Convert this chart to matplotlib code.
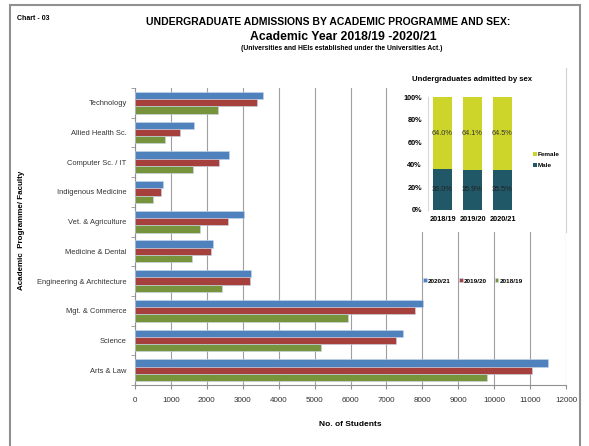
import numpy as np
import matplotlib.pyplot as plt
from matplotlib.patches import Rectangle

plt.rcParams['font.family'] = ['Liberation Sans', 'DejaVu Sans']

# main chart data (top to bottom as drawn)
faculties = ['Technology', 'Allied Health Sc.', 'Computer Sc. / IT', 'Indigenous Medicine',
             'Vet. & Agriculture', 'Medicine & Dental', 'Engineering & Architecture',
             'Mgt. & Commerce', 'Science', 'Arts & Law']
adm_2021 = [3570, 1650, 2630, 770, 3030, 2180, 3220, 8010, 7450, 11490]
adm_1920 = [3400, 1250, 2340, 725, 2600, 2105, 3210, 7795, 7260, 11060]
adm_1819 = [2300, 835, 1605, 510, 1820, 1590, 2430, 5940, 5180, 9810]
series_labels = ['2020/21', '2019/20', '2018/19']
series_colors = ['#4F81BD', '#A5403D', '#77933C']

# inset data
years = ['2018/19', '2019/20', '2020/21']
male_pct = [36.0, 35.9, 35.5]
female_pct = [64.0, 64.1, 64.5]

W, H = 589, 446
fig = plt.figure(figsize=(W / 100, H / 100), dpi=100)

# outer frame
fig.patches.append(Rectangle((10 / W, -0.05), 570 / W, 1 - 5 / H + 0.05, transform=fig.transFigure,
                             fill=False, edgecolor='#909090', linewidth=1.5))

fig.text(17 / W, 1 - 19 / H, 'Chart - 03', fontsize=5, fontweight='bold', va='center')
fig.text(328 / W, 1 - 22 / H, 'UNDERGRADUATE ADMISSIONS BY ACADEMIC PROGRAMME AND SEX:',
         fontsize=7.5, fontweight='bold', ha='center', va='center')
fig.text(343 / W, 1 - 37 / H, 'Academic Year 2018/19 -2020/21',
         fontsize=8.8, fontweight='bold', ha='center', va='center')
fig.text(342 / W, 1 - 49 / H, '(Universities and HEIs established under the Universities Act.)',
         fontsize=4.9, fontweight='bold', ha='center', va='center')

ax = fig.add_axes([135 / W, 1 - 385 / H, 431 / W, 297 / H])
n = len(faculties)
pos = np.arange(n)[::-1]
bh = 0.245
for k, (vals, lab, col) in enumerate(zip([adm_2021, adm_1920, adm_1819], series_labels, series_colors)):
    ax.barh(pos + (1 - k) * bh, vals, height=bh, color=col, label=lab,
            edgecolor='#C8D8EC', linewidth=0.4, zorder=3)

ax.set_xlim(0, 12000)
ax.set_ylim(-0.5, n - 0.5)
ax.set_xticks(np.arange(0, 12001, 1000))
ax.tick_params(axis='x', labelsize=5.8, length=3, color='#909090', pad=6, labelcolor='#333333')
ax.set_yticks(pos)
ax.set_yticklabels(faculties, fontsize=5.4, color='#333333')
ax.set_yticks(np.arange(-0.5, n, 1), minor=True)
ax.tick_params(axis='y', which='major', length=0, pad=6)
ax.tick_params(axis='y', which='minor', length=3, color='#909090')
ax.grid(axis='x', color='#A0A0A0', linewidth=0.8, zorder=0)
for s in ['top', 'right']:
    ax.spines[s].set_visible(False)
for s in ['left', 'bottom']:
    ax.spines[s].set_color('#909090')
ax.set_xlabel('No. of Students', fontsize=6, fontweight='bold', labelpad=12)
fig.text(22 / W, 1 - 230 / H, 'Academic  Programme/ Faculty', fontsize=5.8, fontweight='bold',
         rotation=90, ha='center', va='center')

ax.legend(loc='center', bbox_to_anchor=(473 / W, 1 - 281 / H), bbox_transform=fig.transFigure,
          ncol=3, frameon=False, handlelength=0.6, handleheight=0.6,
          handletextpad=0.2, columnspacing=1.2, prop={'weight': 'bold', 'size': 4.6})

# inset panel
box = fig.add_axes([398 / W, 1 - 232 / H, 168 / W, 164 / H])
box.set_facecolor('white')
box.set_xticks([])
box.set_yticks([])
for s in box.spines.values():
    s.set_visible(False)
box.spines['right'].set_visible(True)
box.spines['right'].set_color('#D0D0D0')

iax = fig.add_axes([427.5 / W, 1 - 210 / H, 90 / W, 112.7 / H])
xi = np.arange(len(years))
iax.bar(xi, male_pct, width=0.65, color='#215868', label='Male')
iax.bar(xi, female_pct, width=0.65, bottom=male_pct, color='#CDD52A', label='Female')
for i in range(len(years)):
    iax.text(xi[i], male_pct[i] / 2, '%.1f%%' % male_pct[i], ha='center', va='center',
             fontsize=5.3, color='#222222')
    iax.text(xi[i], male_pct[i] + female_pct[i] / 2, '%.1f%%' % female_pct[i], ha='center',
             va='center', fontsize=5.3, color='#333333')
iax.set_xlim(-0.5, 2.5)
iax.set_ylim(0, 100)
iax.set_yticks(np.arange(0, 101, 20))
iax.set_yticklabels(['%d%%' % v for v in range(0, 101, 20)])
iax.set_xticks(xi)
iax.set_xticklabels(years)
iax.tick_params(axis='both', length=0, labelsize=5.3, pad=4)
for lab in iax.get_xticklabels() + iax.get_yticklabels():
    lab.set_fontweight('bold')
for s in ['top', 'right', 'bottom']:
    iax.spines[s].set_visible(False)
iax.spines['left'].set_color('#D8D8D8')
iax.set_title('Undergraduates admitted by sex', fontsize=5.6, fontweight='bold', pad=12)
h, l = iax.get_legend_handles_labels()
iax.legend(h[::-1], l[::-1], loc='center left', bbox_to_anchor=(527 / W, 1 - 160 / H),
           bbox_transform=fig.transFigure, frameon=False, handlelength=0.6, handleheight=0.6,
           handletextpad=0.2, labelspacing=0.8, prop={'weight': 'bold', 'size': 4.6})

fig.savefig('out.png', dpi=100)
